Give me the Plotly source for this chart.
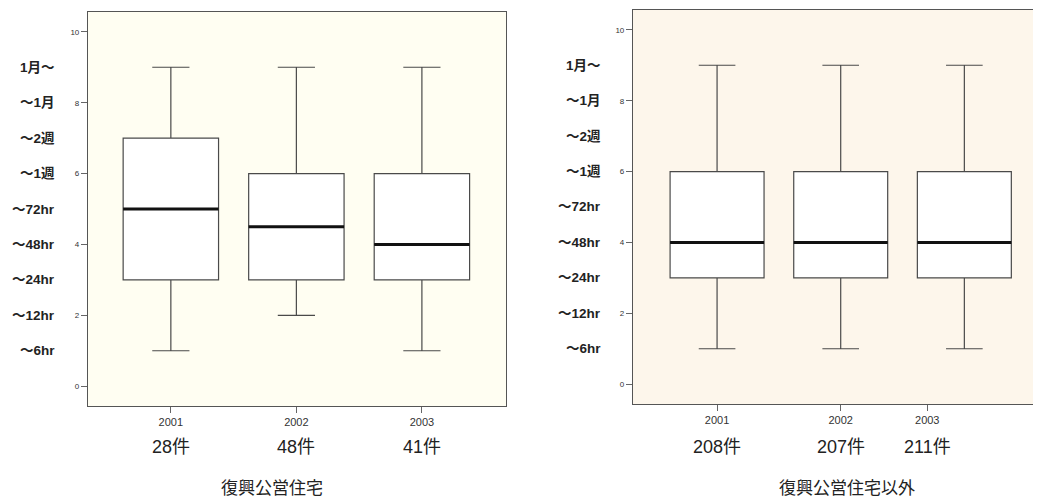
import plotly.graph_objects as go

years = ["2001", "2002", "2003"]
duration_labels = ["〜6hr", "〜12hr", "〜24hr", "〜48hr", "〜72hr", "〜1週", "〜2週", "〜1月", "1月〜"]
duration_levels = [1, 2, 3, 4, 5, 6, 7, 8, 9]

# 復興公営住宅
a_counts = ["28件", "48件", "41件"]
a_min = [1, 2, 1]
a_q1 = [3, 3, 3]
a_med = [5, 4.5, 4]
a_q3 = [7, 6, 6]
a_max = [9, 9, 9]

# 復興公営住宅以外
b_counts = ["208件", "207件", "211件"]
b_min = [1, 1, 1]
b_q1 = [3, 3, 3]
b_med = [4, 4, 4]
b_q3 = [6, 6, 6]
b_max = [9, 9, 9]
b_label_pos = [0, 1, 1.7]   # tick label placement as printed in the original

OFF = 8            # page body margin
W = 1041 - OFF
H = 500 - OFF
BOXW = 0.76
LINE = "#4a4a4a"
FONT = "Liberation Sans, Arial, sans-serif"
JFONT = "Liberation Sans, Noto Sans CJK JP, sans-serif"


def px_x(v):
    return (v - OFF) / W


def px_y(v):
    return 1 - (v - OFF) / H


fig = go.Figure()

panels = [
    dict(xa="x", ya="y", mn=a_min, q1=a_q1, md=a_med, q3=a_q3, mx=a_max,
         counts=a_counts, labpos=[0, 1, 2], title="復興公営住宅",
         xdom=[px_x(88), px_x(506)], ydom=[px_y(406), px_y(12)],
         xr=[-0.66, 2.67], bg="#fffef2", title_x=272, lab_x=57, mirror_y=True),
    dict(xa="x2", ya="y2", mn=b_min, q1=b_q1, md=b_med, q3=b_q3, mx=b_max,
         counts=b_counts, labpos=b_label_pos, title="復興公営住宅以外",
         xdom=[px_x(633), 1.0], ydom=[px_y(404), px_y(10)],
         xr=[-0.68, 2.62], bg="#fdf6eb", title_x=847, lab_x=603, mirror_y=False),
]

for i, p in enumerate(panels):
    xs = list(range(len(years)))
    fig.add_trace(go.Box(
        x=xs, q1=p["q1"], median=p["md"], q3=p["q3"],
        lowerfence=p["mn"], upperfence=p["mx"],
        width=BOXW, whiskerwidth=0.39,
        fillcolor="white", line=dict(color=LINE, width=1.2),
        boxpoints=False, hoverinfo="skip", showlegend=False,
        xaxis=p["xa"], yaxis=p["ya"],
    ))
    mx_, my_ = [], []
    for x, m in zip(xs, p["md"]):
        mx_ += [x - BOXW / 2, x + BOXW / 2, None]
        my_ += [m, m, None]
    fig.add_trace(go.Scatter(
        x=mx_, y=my_, mode="lines", line=dict(color="#111111", width=3),
        hoverinfo="skip", showlegend=False, xaxis=p["xa"], yaxis=p["ya"],
    ))

    sfx = "" if i == 0 else "2"
    fig.update_layout(**{
        f"xaxis{sfx}": dict(
            domain=p["xdom"], range=p["xr"], anchor=f"y{sfx}",
            tickmode="array", tickvals=p["labpos"], ticktext=years,
            ticks="outside", ticklen=6, tickcolor="#666", tickwidth=1,
            tickfont=dict(size=11, color="#333", family=FONT),
            showline=True, linecolor="#555", linewidth=1.2, mirror=True,
            showgrid=False, zeroline=False, fixedrange=True,
        ),
        f"yaxis{sfx}": dict(
            domain=p["ydom"], range=[-0.56, 10.56], anchor=f"x{sfx}",
            tickmode="array", tickvals=[0, 2, 4, 6, 8, 10],
            ticks="outside", ticklen=6, tickcolor="#666", tickwidth=1,
            tickfont=dict(size=8, color="#333", family=FONT),
            showline=True, linecolor="#555", linewidth=1.2, mirror=p["mirror_y"],
            showgrid=False, zeroline=False, fixedrange=True,
        ),
    })
    # background
    fig.add_shape(type="rect", xref=f"x{sfx} domain", yref=f"y{sfx} domain",
                  x0=0, x1=1, y0=0, y1=1, fillcolor=p["bg"],
                  line=dict(width=0), layer="below")
    # duration category labels
    for lv, lab in zip(duration_levels, duration_labels):
        fig.add_annotation(x=px_x(p["lab_x"]), xref="paper", y=lv, yref=f"y{sfx}",
                           text=f"<b>{lab}</b>", showarrow=False, xanchor="right",
                           font=dict(size=13.5, color="#222", family=JFONT))
    # counts under ticks
    for lp, c in zip(p["labpos"], p["counts"]):
        fig.add_annotation(x=lp, xref=f"x{sfx}", y=px_y(447), yref="paper",
                           text=c, showarrow=False, xanchor="center", yanchor="middle",
                           font=dict(size=18, color="#222", family=JFONT))
    # panel title
    fig.add_annotation(x=px_x(p["title_x"]), xref="paper", y=px_y(486), yref="paper",
                       text=p["title"], showarrow=False, xanchor="center", yanchor="middle",
                       font=dict(size=17, color="#222", family="Noto Sans CJK JP"))

fig.update_layout(
    width=W, height=H,
    margin=dict(l=0, r=0, t=0, b=0),
    paper_bgcolor="white", plot_bgcolor="rgba(0,0,0,0)",
    font=dict(family=FONT),
)

fig.write_html("out.html", config={"displayModeBar": False})
